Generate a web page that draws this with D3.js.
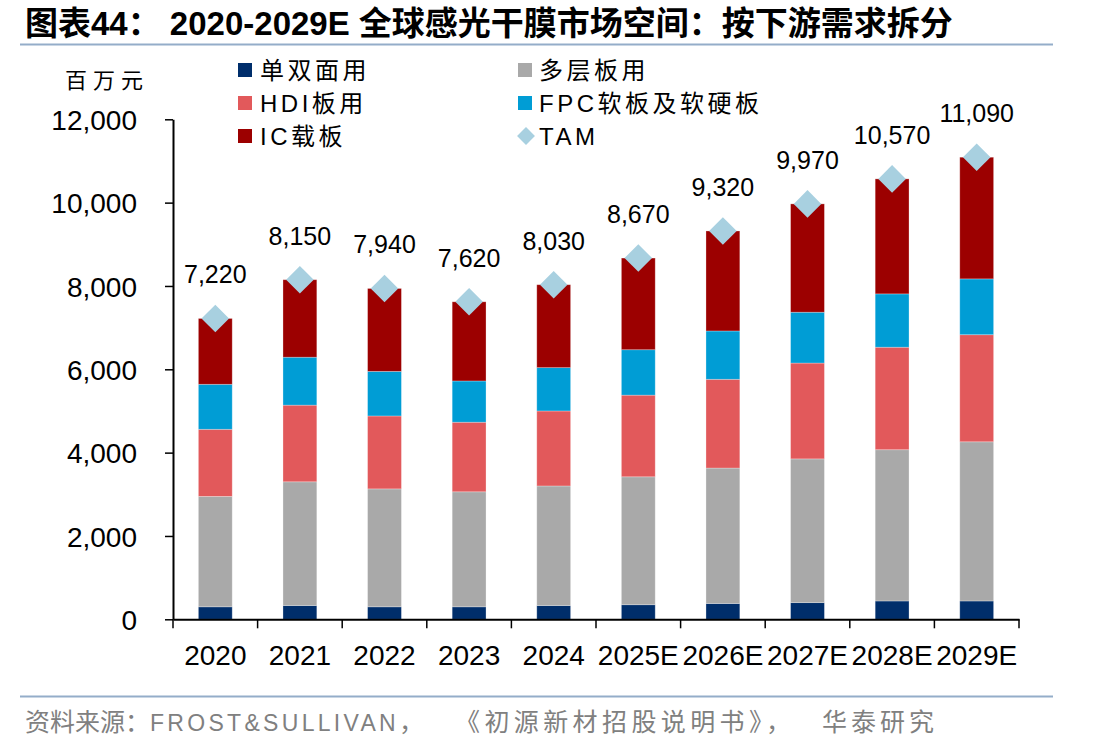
<!DOCTYPE html>
<html><head><meta charset="utf-8">
<script src="https://cdn.jsdelivr.net/npm/d3@7"></script>
<style>
html,body{margin:0;padding:0;background:#fff;}
svg{display:block;}
text{font-family:"Liberation Sans","Noto Sans CJK SC",sans-serif;}
</style></head>
<body>
<svg id="chart" width="1112" height="751"></svg>
<script>
const categories = ["2020","2021","2022","2023","2024","2025E","2026E","2027E","2028E","2029E"];
const singleDouble = [300,330,300,300,330,350,380,400,440,440];
const multiLayer   = [2650,2970,2830,2760,2870,3070,3250,3450,3630,3820];
const hdi          = [1610,1840,1750,1670,1800,1960,2130,2300,2460,2570];
const fpc          = [1080,1150,1070,990,1040,1090,1160,1220,1280,1340];
const icSubstrate  = [1580,1860,1990,1900,1990,2200,2400,2600,2760,2920];
const tam          = [7220,8150,7940,7620,8030,8670,9320,9970,10570,11090];
const yTicks       = [0,2000,4000,6000,8000,10000,12000];
const seriesNames  = ["单双面用","多层板用","HDI板用","FPC软板及软硬板","IC载板","TAM"];
const colors       = ["#002E6B","#A9A9A9","#E2595B","#009DD5","#9C0000","#A8D0E0"];

const svg = d3.select("#chart");

// title
svg.append("text").attr("x",25).attr("y",35)
  .attr("font-size",33).attr("font-weight","bold").attr("fill","#000")
  .text("图表44： 2020-2029E 全球感光干膜市场空间：按下游需求拆分");
svg.append("line").attr("x1",20).attr("x2",1053).attr("y1",44.5).attr("y2",44.5)
  .attr("stroke","#94ADC9").attr("stroke-width",2);

// footer
svg.append("line").attr("x1",20).attr("x2",1053).attr("y1",696.5).attr("y2",696.5)
  .attr("stroke","#94ADC9").attr("stroke-width",2);
const ft = svg.append("text").attr("y",731).attr("fill","#808080");
ft.append("tspan").attr("x",25).attr("font-size",25).attr("letter-spacing",0).text("资料来源：");
ft.append("tspan").attr("x",150).attr("font-size",23).attr("letter-spacing",3.3).text("FROST&SULLIVAN");
ft.append("tspan").attr("font-size",25).attr("letter-spacing",0).text("，");
ft.append("tspan").attr("x",455).attr("font-size",25).attr("letter-spacing",4.4).text("《初源新材招股说明书》，");
ft.append("tspan").attr("x",822).attr("font-size",25).attr("letter-spacing",4).text("华泰研究");

const x0 = 173, x1 = 1019, yTop = 119.3, yBot = 619.3;
const x = d3.scaleBand().domain(categories).range([x0,x1]).paddingInner(0.6).paddingOuter(0.3);
const y = d3.scaleLinear().domain([0,12000]).range([yBot,yTop]);

const rows = categories.map((c,i)=>({cat:c, a:singleDouble[i], b:multiLayer[i], c2:hdi[i], d:fpc[i], e:icSubstrate[i]}));
const keys = ["a","b","c2","d","e"];
const stack = d3.stack().keys(keys)(rows);

const g = svg.append("g");
stack.forEach((layer,li)=>{
  g.selectAll(null).data(layer).enter().append("rect")
    .attr("x",d=>x(d.data.cat))
    .attr("width",x.bandwidth())
    .attr("y",d=>y(d[1]))
    .attr("height",d=>y(d[0])-y(d[1]))
    .attr("fill",colors[li])
    .attr("stroke","rgba(255,255,255,0.35)").attr("stroke-width",0.8);
});

// axes
const yAxis = d3.axisLeft(y).tickValues(yTicks).tickSize(8).tickSizeOuter(0).tickFormat(d3.format(","));
const ya = svg.append("g").attr("transform",`translate(${x0},0)`).call(yAxis);
ya.select(".domain").attr("stroke","#000").attr("stroke-width",2);
ya.selectAll(".tick line").attr("stroke","#000").attr("stroke-width",1.5);
ya.selectAll(".tick text").attr("font-size",28).attr("fill","#000").attr("x",-36).attr("dy","0.36em")
  .attr("font-family","Liberation Sans, sans-serif");

const xa = svg.append("g").attr("transform",`translate(0,${yBot})`)
  .call(d3.axisBottom(x).tickSize(0).tickSizeOuter(0));
xa.select(".domain").attr("stroke","#000").attr("stroke-width",2);
xa.selectAll(".tick text").attr("font-size",28).attr("fill","#000").attr("y",46).attr("dy",0)
  .attr("font-family","Liberation Sans, sans-serif");
// category boundary ticks
const bounds = categories.map(c=>x(c)-x.step()*x.paddingInner()/2).concat([x1]);
bounds[0] = x0;
svg.append("g").selectAll("line").data(bounds).enter().append("line")
  .attr("x1",d=>d).attr("x2",d=>d).attr("y1",yBot).attr("y2",yBot+9)
  .attr("stroke","#000").attr("stroke-width",1.5);

// TAM diamonds + labels
const diamond = d3.symbol().type(d3.symbolSquare).size(380);
svg.append("g").selectAll("path").data(tam).enter().append("path")
  .attr("d",diamond)
  .attr("transform",(d,i)=>`translate(${x(categories[i])+x.bandwidth()/2},${y(d)}) rotate(45)`)
  .attr("fill",colors[5]);
svg.append("g").selectAll("text").data(tam).enter().append("text")
  .attr("x",(d,i)=>x(categories[i])+x.bandwidth()/2)
  .attr("y",d=>y(d)-35)
  .attr("text-anchor","middle").attr("font-size",25).attr("fill","#000")
  .text(d=>d3.format(",")(d));

// unit
svg.append("text").attr("x",65).attr("y",88).attr("font-size",22).attr("fill","#000")
  .attr("letter-spacing",6).text("百万元");

// legend
const legPos = [[238,70],[518,70],[238,103],[518,103],[238,136],[518,136]];
seriesNames.forEach((n,i)=>{
  const [lx,ly] = legPos[i];
  if(i<5){
    svg.append("rect").attr("x",lx).attr("y",ly-7).attr("width",14).attr("height",14).attr("fill",colors[i]);
  } else {
    svg.append("path").attr("d",d3.symbol().type(d3.symbolSquare).size(160))
      .attr("transform",`translate(${lx+8},${ly}) rotate(45)`).attr("fill",colors[i]);
  }
  svg.append("text").attr("x",lx+(i%2===0?22:21)).attr("y",ly+9).attr("font-size",24).attr("fill","#000")
    .attr("letter-spacing",3.5).text(n);
});
</script>
</body></html>
